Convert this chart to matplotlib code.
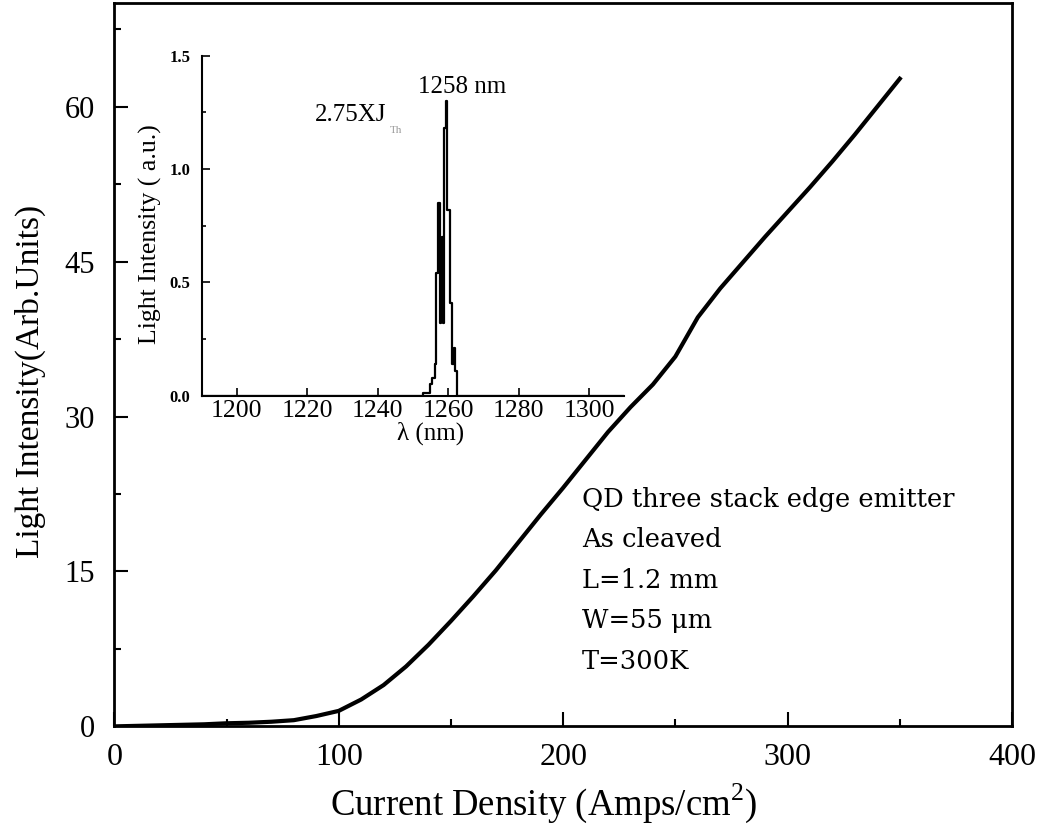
import matplotlib
matplotlib.use("Agg")
import matplotlib.pyplot as plt
from matplotlib.ticker import MultipleLocator, FormatStrFormatter

plt.rcParams['font.family'] = ['Liberation Serif', 'DejaVu Serif']
plt.rcParams['mathtext.fontset'] = 'custom'
plt.rcParams['mathtext.rm'] = 'Liberation Serif'

# L-I curve: current density (A/cm^2) vs light intensity (arb. units)
current = [0, 10, 20, 30, 40, 50, 60, 70, 80, 90, 100, 110, 120, 130, 140, 150,
           160, 170, 180, 190, 200, 210, 220, 230, 240, 250, 260, 270, 280, 290,
           300, 310, 320, 330, 340, 350]
intensity = [0.0, 0.05, 0.1, 0.15, 0.2, 0.3, 0.35, 0.45, 0.6, 1.0, 1.5, 2.6, 4.0,
             5.8, 7.9, 10.2, 12.6, 15.1, 17.8, 20.5, 23.1, 25.8, 28.5, 30.9, 33.1,
             35.8, 39.6, 42.4, 44.9, 47.4, 49.8, 52.2, 54.7, 57.3, 60.0, 62.7]

# inset spectrum at 2.75 x Jth
wavelength = [1190, 1252.8, 1254.7, 1255.5, 1256.2, 1256.4, 1257.2, 1257.6, 1257.9,
              1258.2, 1258.5, 1258.7, 1259.5, 1259.7, 1260.4, 1261.0, 1261.5,
              1261.9, 1262.5, 1310]
spectrum = [0.0, 0.01, 0.05, 0.08, 0.14, 0.54, 0.85, 0.32, 0.57, 0.70, 0.32, 1.18,
            1.30, 0.82, 0.41, 0.14, 0.21, 0.11, 0.0, 0.0]

fig = plt.figure(figsize=(10.39, 8.33), dpi=100)
ax = fig.add_axes([0.110, 0.128, 0.864, 0.868])
ax.plot(current, intensity, color='black', lw=3)
ax.set_xlim(0, 400)
ax.set_ylim(0, 70)
ax.xaxis.set_major_locator(MultipleLocator(100))
ax.xaxis.set_minor_locator(MultipleLocator(50))
ax.yaxis.set_major_locator(MultipleLocator(15))
ax.yaxis.set_minor_locator(MultipleLocator(7.5))
ax.tick_params(which='both', direction='in', width=1.5)
ax.tick_params(which='major', length=10)
ax.tick_params(which='minor', length=5)
ax.tick_params(axis='x', labelsize=23, pad=12)
ax.tick_params(axis='y', labelsize=22, pad=14)
for s in ax.spines.values():
    s.set_linewidth(2)
ax.set_xlabel('Current Density (Amps/cm$^2$)', fontsize=26.5, va='center')
ax.xaxis.set_label_coords(0.478, -0.1065)
ax.set_ylabel('Light Intensity(Arb.Units)', fontsize=24, va='center')
ax.yaxis.set_label_coords(-0.0935, 0.477)

ax.text(0.521, 0.331, 'QD three stack edge emitter\nAs cleaved\nL=1.2 mm\nW=55 \u03bcm\nT=300K',
        transform=ax.transAxes, fontsize=18.5, family='DejaVu Serif',
        va='top', ha='left', linespacing=1.77)

# inset
ins = fig.add_axes([0.194, 0.525, 0.407, 0.408])
ins.plot(wavelength, spectrum, color='black', lw=1.6, drawstyle='steps-post')
ins.set_xlim(1190, 1310)
ins.set_ylim(0, 1.5)
ins.spines['top'].set_visible(False)
ins.spines['right'].set_visible(False)
for s in ('left', 'bottom'):
    ins.spines[s].set_linewidth(1.5)
ins.xaxis.set_major_locator(MultipleLocator(20))
ins.yaxis.set_major_locator(MultipleLocator(0.5))
ins.yaxis.set_minor_locator(MultipleLocator(0.25))
ins.yaxis.set_major_formatter(FormatStrFormatter('%.1f'))
ins.tick_params(which='both', direction='in', width=1.2)
ins.tick_params(which='major', length=6)
ins.tick_params(which='minor', length=3)
ins.tick_params(axis='x', labelsize=18.5, pad=3)
ins.tick_params(axis='y', labelsize=12, pad=8)
for lab in ins.get_yticklabels():
    lab.set_fontweight('bold')
ins.set_xlabel('\u03bb (nm)', fontsize=18, va='center')
ins.xaxis.set_label_coords(0.541, -0.112)
ins.set_ylabel('Light Intensity ( a.u.)', fontsize=18.5, va='center')
ins.yaxis.set_label_coords(-0.122, 0.474)
ins.text(1263.9, 1.363, '1258 nm', fontsize=18, ha='center', va='center')
ins.text(1222.2, 1.24, '2.75XJ', fontsize=18, ha='left', va='center')
ins.text(1243.5, 1.17, 'Th', fontsize=8, color='#999999', ha='left', va='center')

fig.savefig('out.png', dpi=100)
